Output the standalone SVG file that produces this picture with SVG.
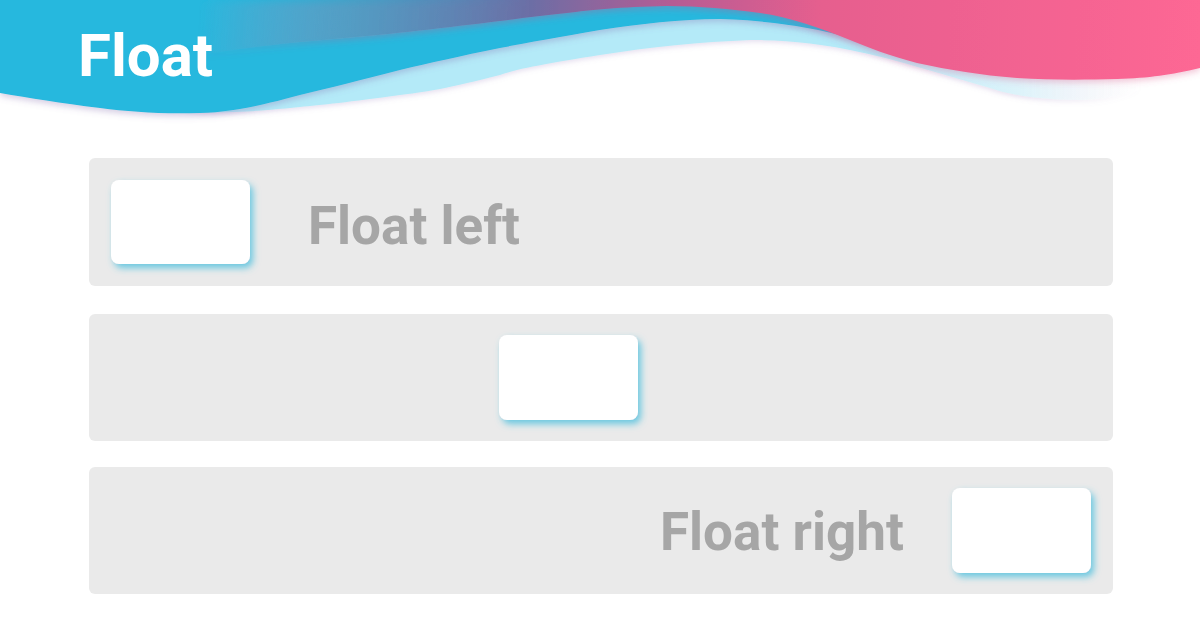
<svg xmlns="http://www.w3.org/2000/svg" width="1200" height="628" viewBox="0 0 1200 628">
<style>
.panel{fill:#EAEAEA}
.box{fill:#FFFFFF;filter:url(#boxShadow)}
.lbl{font-family:Roboto,"Liberation Sans",sans-serif;font-weight:700;font-size:53px;fill:#A6A6A6}
.title{font-family:Roboto,"Liberation Sans",sans-serif;font-weight:700;font-size:60px;fill:#FFFFFF}
</style>
<defs>
<filter id="boxShadow" x="-20%" y="-20%" width="150%" height="160%">
<feDropShadow dx="3" dy="4" stdDeviation="3.5" flood-color="#3DBCDD" flood-opacity="0.75"/>
</filter>
<filter id="waveShadow" x="-10%" y="-50%" width="120%" height="200%">
<feDropShadow dx="0" dy="3" stdDeviation="3" flood-color="#7B5FA8" flood-opacity="0.3"/>
</filter>
<filter id="pinkShadow" x="-10%" y="-50%" width="120%" height="200%">
<feDropShadow dx="0" dy="3" stdDeviation="3" flood-color="#D84F85" flood-opacity="0.3"/>
</filter>
<filter id="lightShadow" x="-10%" y="-50%" width="120%" height="200%">
<feDropShadow dx="0" dy="2" stdDeviation="2.5" flood-color="#9A7FC0" flood-opacity="0.25"/>
</filter>
<linearGradient id="pinkGrad" x1="200" y1="0" x2="1200" y2="60" gradientUnits="userSpaceOnUse">
<stop offset="0" stop-color="#3AA9D0" stop-opacity="0"/>
<stop offset="0.15" stop-color="#4A9BC2" stop-opacity="0.8"/>
<stop offset="0.33" stop-color="#6C6EA5"/>
<stop offset="0.47" stop-color="#B55C94"/>
<stop offset="0.62" stop-color="#E65E8E"/>
<stop offset="1" stop-color="#FD6794"/>
</linearGradient>
<linearGradient id="lightGrad" x1="0" y1="0" x2="1200" y2="0" gradientUnits="userSpaceOnUse">
<stop offset="0.72" stop-color="#B4EAF8"/>
<stop offset="0.85" stop-color="#DDF3FA"/>
<stop offset="0.95" stop-color="#FFFFFF" stop-opacity="0"/>
</linearGradient>
</defs>
<rect x="0" y="0" width="1200" height="628" fill="#FFFFFF"/>
<g id="header">
<path d="M0,0 H1200 V70 C1150,85 1120,100 1080,100 C1040,100 1010,95 990,88 C950,77 900,60 850,50 C810,42 780,40 750,40 C700,42 650,47 600,55 C550,63 520,68 500,75 C450,88 420,93 400,95 C350,102 320,105 300,107 C260,111 230,113 200,112 L0,80 Z" fill="url(#lightGrad)" filter="url(#lightShadow)"/>
<path d="M0,0 H900 V50 C880,45 860,40 840,35 C800,25 760,20 720,19 C680,19 640,24 600,30 C560,37 530,42 500,48 C460,56 430,63 400,70 C360,80 330,88 300,95 C260,106 230,112 200,113 C160,114 130,112 100,108 C60,103 30,98 0,93 Z" fill="#27B8DE" filter="url(#waveShadow)"/>
<path d="M200,0 H1200 V68 C1170,75 1150,78 1117,79 C1080,80 1050,80 1017,78 C980,75 950,70 917,63 C890,56 870,48 850,40 C820,28 790,17 760,13 C730,9 700,6 667,6 C620,7 590,10 567,13 C530,17 500,21 467,25 C420,31 360,37 300,42 C260,46 230,50 200,55 Z" fill="url(#pinkGrad)" filter="url(#pinkShadow)"/>
<text class="title" x="78" y="76">Float</text>
</g>
<g id="row-left">
<rect class="panel" x="89" y="158" width="1024" height="128" rx="6"/>
<rect class="box" x="111" y="180" width="139" height="84" rx="8"/>
<text class="lbl" x="308" y="244">Float left</text>
</g>
<g id="row-center">
<rect class="panel" x="89" y="314" width="1024" height="127" rx="6"/>
<rect class="box" x="499" y="335" width="139" height="85" rx="8"/>
</g>
<g id="row-right">
<rect class="panel" x="89" y="467" width="1024" height="127" rx="6"/>
<rect class="box" x="952" y="488" width="139" height="85" rx="8"/>
<text class="lbl" x="660" y="550">Float right</text>
</g>
<g id="connectors"/>
</svg>
